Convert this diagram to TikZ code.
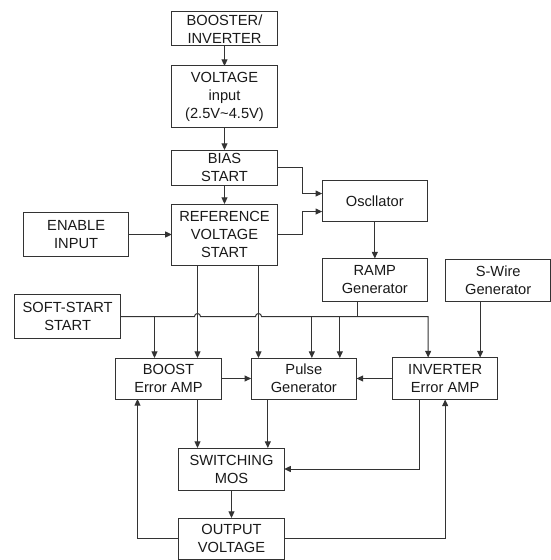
\documentclass[tikz,border=0pt]{standalone}
\usepackage{fontspec}
\setmainfont{Liberation Sans}
\usetikzlibrary{positioning,arrows.meta,calc}

\begin{document}
\begin{tikzpicture}[
        every node/.style={align=center},
        block/.style={rectangle, draw=black!80, text=black!90, line width=0.75pt,
            minimum width=79pt, inner xsep=2pt, inner ysep=1pt, outer sep=0pt,
            font=\fontsize{11pt}{13.5pt}\selectfont},
        flow/.style={draw=black!80, line width=0.75pt, -{Triangle[length=5pt,width=4.5pt]}},
        wire/.style={draw=black!80, line width=0.75pt}
    ]

    \useasboundingbox (-168.375pt,-398.25pt) rectangle (244.125pt,21.75pt);

    % Main column
    \node[block, minimum height=25.5pt] (booster) at (0,0) {BOOSTER/ \\ INVERTER};
    \node[block, minimum height=45.75pt, below=15pt of booster] (vin) {VOLTAGE \\ input \\ (2.5V\textasciitilde4.5V)};
    \node[block, minimum height=26.25pt, below=17.25pt of vin] (bias) {BIAS \\ START};
    \node[block, minimum height=45.75pt, below=14.25pt of bias] (ref) {REFERENCE \\ VOLTAGE \\ START};

    % Left side
    \node[block, minimum height=33pt, left=32.25pt of ref] (enable) {ENABLE \\ INPUT};
    \node[block, minimum height=33pt, below=28.5pt of enable, xshift=-6.4pt] (soft) {SOFT-START \\ START};

    % Right side
    \coordinate (mid) at ($(bias.east)!.5!(ref.east)$);
    \node[block, minimum height=30.75pt, right=33.75pt of mid] (osc) {Oscllator};
    \node[block, minimum height=32.25pt, below=27.75pt of osc] (ramp) {RAMP \\ Generator};
    \node[block, minimum height=31.5pt, right=13.5pt of ramp] (swire) {S-Wire \\ Generator};

    % Error amplifiers and pulse
    \node[block, minimum height=30.75pt, below=69.75pt of ref, xshift=-42pt] (bamp) {BOOST \\ Error AMP};
    \node[block, minimum height=30.75pt, right=22.5pt of bamp] (pulse) {Pulse \\ Generator};
    \node[block, minimum height=31.5pt, right=27pt of pulse] (iamp) {INVERTER \\ Error AMP};

    % Output stage
    \node[block, minimum height=31.5pt, below=36.75pt of bamp, xshift=47.25pt] (swmos) {SWITCHING \\ MOS};
    \node[block, minimum height=30.75pt, below=21pt of swmos] (vout) {OUTPUT \\ VOLTAGE};

    % Reference lines crossing the soft-start bus
    \coordinate (jl) at ([xshift=-20.25pt]ref.south);
    \coordinate (jr) at ([xshift=25.5pt]ref.south);

    % Arrows (main column)
    \draw[flow] (booster) -- (vin);
    \draw[flow] (vin) -- (bias);
    \draw[flow] (bias) -- (ref);
    \draw[flow] (enable) -- (ref);

    % Oscillator and ramp
    \draw[flow] (bias.east) -- ++(18.75pt,0) |- ([yshift=5.6pt]osc.west);
    \draw[flow] (ref.east) -- ++(18.75pt,0) |- ([yshift=-7.9pt]osc.west);
    \draw[flow] (osc.south) -- (osc.south |- ramp.north);

    % Soft-start bus
    \draw[flow] (soft.east) -- ($(soft.east -| jl)+(-2.25pt,0)$)
        arc[start angle=180, end angle=0, radius=2.25pt]
        -- ($(soft.east -| jr)+(-2.25pt,0)$)
        arc[start angle=180, end angle=0, radius=2.25pt]
        -| ([xshift=-12.75pt]iamp.north);
    \draw[flow] (soft.east) -| ([xshift=-10.5pt]bamp.north);
    \draw[wire] ([xshift=-12.75pt]ramp.south) -- ([xshift=-12.75pt]ramp.south |- soft.east);
    \draw[flow] ([xshift=6pt]pulse.north |- soft.east) -- ([xshift=6pt]pulse.north);
    \draw[flow] ([xshift=27pt]pulse.north |- soft.east) -- ([xshift=27pt]pulse.north);
    \draw[flow] (jl) -- (jl |- bamp.north);
    \draw[flow] (jr) -- (jr |- pulse.north);
    \draw[flow] ([xshift=-13.5pt]swire.south) -- ([xshift=-13.5pt]swire.south |- iamp.north);

    % Amplifiers to pulse and switch
    \draw[flow] (bamp) -- (pulse);
    \draw[flow] (iamp.west) -- (iamp.west -| pulse.east);
    \draw[flow] ([xshift=21.75pt]bamp.south) -- ([xshift=21.75pt]bamp.south |- swmos.north);
    \draw[flow] ([xshift=-27pt]pulse.south) -- ([xshift=-27pt]pulse.south |- swmos.north);
    \draw[flow] ([xshift=-19.5pt]iamp.south) |- (swmos.east);
    \draw[flow] (swmos) -- (vout);

    % Feedback
    \draw[flow] (vout.west) -| ([xshift=-23.25pt]bamp.south);
    \draw[flow] (vout.east) -| (iamp.south);

\end{tikzpicture}
\end{document}
